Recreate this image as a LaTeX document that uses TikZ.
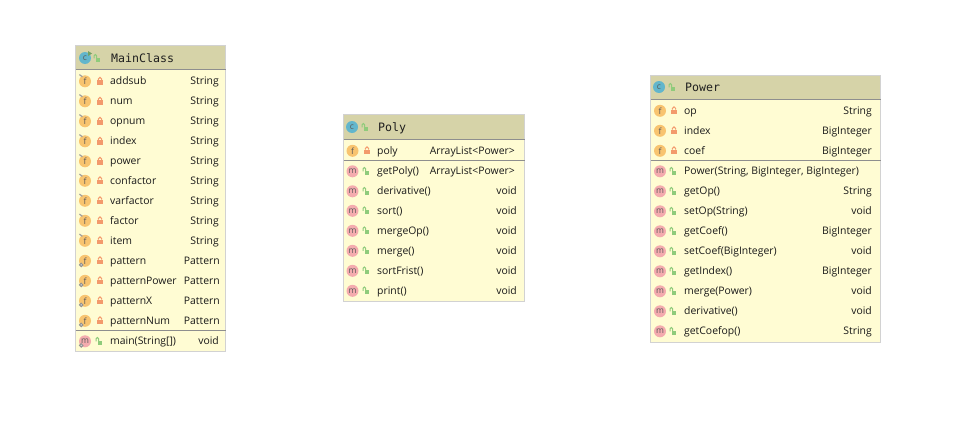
\documentclass[tikz,border=0pt]{standalone}
\usepackage{fontspec}
\setmainfont{Open Sans}
\newfontfamily\monof{DejaVu Sans Mono}
\definecolor{bodyc}{HTML}{FFFCD3}
\definecolor{headc}{HTML}{D6D3A8}
\definecolor{edgec}{HTML}{D2D2D2}
\definecolor{divc}{HTML}{8E8E8E}
\definecolor{fico}{HTML}{F8C470}
\definecolor{mico}{HTML}{F4ABAE}
\definecolor{cico}{HTML}{62B6CC}
\definecolor{lockr}{HTML}{F39A6C}
\definecolor{lockg}{HTML}{8FCB7B}
\tikzset{
  umlbox/.style={draw=edgec,line width=1pt,fill=bodyc,inner sep=0pt,minimum width=#1,anchor=north west},
  rowtext/.style={inner sep=0pt,font=\fontsize{10.4}{12}\selectfont,text=black!90},
  titletext/.style={inner sep=0pt,anchor=base west,font=\monof\fontsize{11.6}{13}\selectfont,text=black!88},
  icontext/.style={inner sep=0pt,font=\fontsize{8.5}{9}\selectfont,text=black!65},
  divider/.style={draw=divc,line width=1pt}
}
% icon: x, y, colour, letter
\newcommand{\roundico}[4]{%
  \fill[#3] (#1,#2+0.3) circle (6pt);
  \node[icontext] at (#1,#2+0.3) {#4};}
\newcommand{\lockico}[3]{%
  \fill[#3] (#1-2.9,#2-0.8) rectangle (#1+2.9,#2+3.6);
  \draw[#3,line width=1pt] (#1-1.7,#2-0.8) -- (#1-1.7,#2-2) arc (180:0:1.7pt) -- (#1+1.7,#2-0.8);}
\newcommand{\openlock}[3]{%
  \fill[#3] (#1-1.4,#2-0.2) rectangle (#1+3.2,#2+3.8);
  \draw[#3,line width=1pt] (#1-2.9,#2+0.4) -- (#1-2.9,#2-2.2) arc (180:0:1.3pt) -- (#1-0.3,#2-0.2);}
\newcommand{\pinmark}[2]{%
  \draw[gray!75,line width=1.2pt] (#1-5.6,#2-6.4) -- (#1-2.6,#2-4.2);}
\newcommand{\gearmark}[2]{%
  \draw[gray!85,line width=1pt,fill=gray!30] (#1-3.8,#2+4.4) circle (1.7pt);}
% row: icon x, lock x, name x, type right x, y, id, name, type
\newcommand{\frow}[8]{%
  \roundico{#1}{#5}{fico}{f}
  \lockico{#2}{#5}{lockr}
  \node[rowtext,anchor=base west] (#6n) at (#3,#5+3.6) {#7};
  \node[rowtext,anchor=base east] (#6t) at (#4,#5+3.6) {#8};}
\newcommand{\mrow}[8]{%
  \roundico{#1}{#5}{mico}{m}
  \openlock{#2}{#5}{lockg}
  \node[rowtext,anchor=base west] (#6n) at (#3,#5+3.6) {#7};
  \node[rowtext,anchor=base east] (#6t) at (#4,#5+3.6) {#8};}
\begin{document}
\begin{tikzpicture}[x=1pt,y=-1pt]
\useasboundingbox (0,0) rectangle (961,423);
\fill[white] (0,0) rectangle (961,423);

% ---------- MainClass
\node[umlbox=150pt,minimum height=306pt] (main) at (75,45) {};
\fill[headc] (76,46) rectangle (225,69);
\draw[divider] (75.5,69.5) -- (225.5,69.5);
\draw[divider] (75.5,330.5) -- (225.5,330.5);
\fill[cico] (85,58) circle (6pt);
\node[icontext] at (85,58) {c};
\fill[lockg!80!black] (88,51) -- (92,53.5) -- (88,56) -- cycle;
\openlock{97}{58}{lockg}
\node[titletext] (maint) at (111,62) {MainClass};
\foreach \yy/\id/\nm/\ty in {
  81/a/addsub/String,101/b/num/String,121/c/opnum/String,141/d/index/String,
  161/e/power/String,180.5/f/confactor/String,200.5/g/varfactor/String,
  220.5/h/factor/String,240.5/i/item/String}{
  \frow{85}{100}{110}{219}{\yy}{m\id}{\nm}{\ty}
  \pinmark{85}{\yy}
}
\foreach \yy/\id/\nm/\ty in {
  260.5/j/pattern/Pattern,280.5/k/patternPower/Pattern,
  300.5/l/patternX/Pattern,320.5/o/patternNum/Pattern}{
  \frow{85}{100}{110}{220}{\yy}{m\id}{\nm}{\ty}
  \gearmark{85}{\yy}
}
\mrow{85}{99}{110}{219}{341}{mm}{main(String[])}{void}
\gearmark{85}{341}

% ---------- Poly
\node[umlbox=181pt,minimum height=187pt] (poly) at (343,114) {};
\fill[headc] (344,115) rectangle (524,139);
\draw[divider] (343.5,139.5) -- (524.5,139.5);
\draw[divider] (343.5,160.5) -- (524.5,160.5);
\fill[cico] (352,127) circle (6pt);
\node[icontext] at (352,127) {c};
\openlock{365}{127}{lockg}
\node[titletext] (polyt) at (378,131) {Poly};
\frow{352.5}{367}{377}{515}{150.5}{pa}{poly}{ArrayList<Power>}
\mrow{352.5}{366}{377}{515}{171}{pb}{getPoly()}{ArrayList<Power>}
\foreach \yy/\id/\nm in {
  191/c/derivative(),210.5/d/sort(),230.5/e/mergeOp(),
  250.5/f/merge(),270.5/g/sortFrist(),290.5/h/print()}{
  \mrow{352.5}{366}{377}{517}{\yy}{p\id}{\nm}{void}
}

% ---------- Power
\node[umlbox=230pt,minimum height=267pt] (pow) at (650,75) {};
\fill[headc] (651,76) rectangle (880,98.5);
\draw[divider] (650.5,99) -- (880.5,99);
\draw[divider] (650.5,160.5) -- (880.5,160.5);
\fill[cico] (659,87) circle (6pt);
\node[icontext] at (659,87) {c};
\openlock{672}{87}{lockg}
\node[titletext] (powt) at (685,91) {Power};
\frow{660}{674}{684}{872}{110.5}{wa}{op}{String}
\frow{660}{674}{684}{872}{130.5}{wb}{index}{BigInteger}
\frow{660}{674}{684}{872}{150.5}{wc}{coef}{BigInteger}
\foreach \yy/\id/\nm/\ty in {
  171/d/{Power(String, BigInteger, BigInteger)}/{},
  191/e/getOp()/String,211/f/setOp(String)/void,231/g/getCoef()/BigInteger,
  251/h/setCoef(BigInteger)/void,271/i/getIndex()/BigInteger,
  291/j/merge(Power)/void,311/k/derivative()/void,331/l/getCoefop()/String}{
  \mrow{660}{673}{684}{872}{\yy}{w\id}{\nm}{\ty}
}
\end{tikzpicture}
\end{document}
